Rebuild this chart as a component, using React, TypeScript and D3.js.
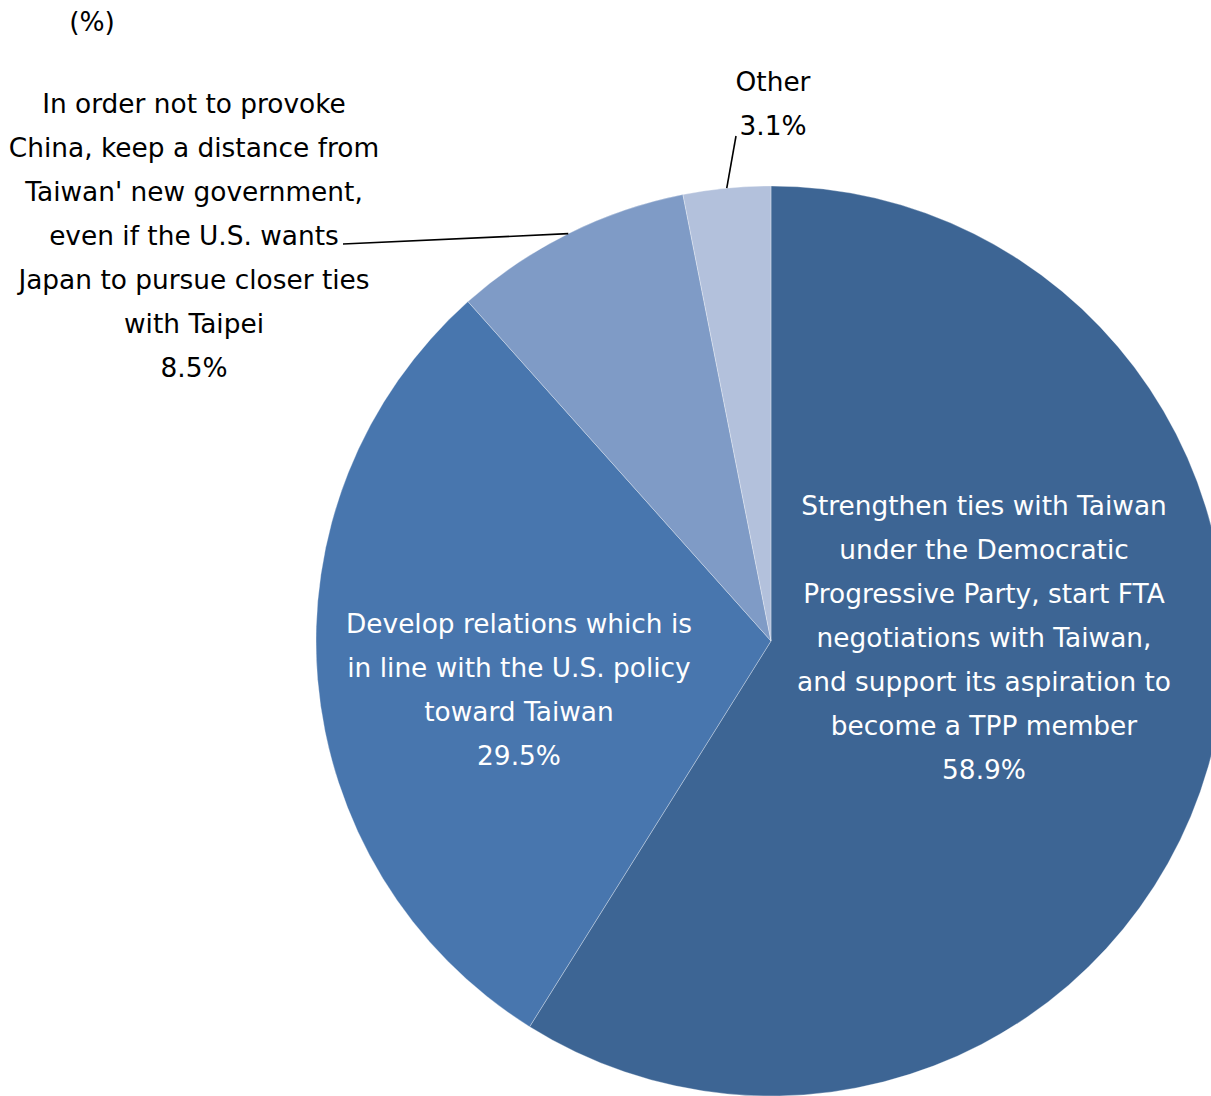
import React from "react";
import * as d3 from "d3";

const categories = [
  "Strengthen ties with Taiwan under the Democratic Progressive Party, start FTA negotiations with Taiwan, and support its aspiration to become a TPP member",
  "Develop relations which is in line with the U.S. policy toward Taiwan",
  "In order not to provoke China, keep a distance from Taiwan' new government, even if the U.S. wants Japan to pursue closer ties with Taipei",
  "Other",
];
const values = [58.9, 29.5, 8.5, 3.1];
const colors = ["#3d6594", "#4876ae", "#7f9bc6", "#b3c1dc"];
const labelLines = [
  ["Strengthen ties with Taiwan", "under the Democratic", "Progressive Party, start FTA", "negotiations with Taiwan,", "and support its aspiration to", "become a TPP member", "58.9%"],
  ["Develop relations which is", "in line with the U.S. policy", "toward Taiwan", "29.5%"],
  ["In order not to provoke", "China, keep a distance from", "Taiwan' new government,", "even if the U.S. wants", "Japan to pursue closer ties", "with Taipei", "8.5%"],
  ["Other", "3.1%"],
];
const labelPos = [
  { x: 984, y: 506, color: "#ffffff" },
  { x: 519, y: 624, color: "#ffffff" },
  { x: 194, y: 104, color: "#000000" },
  { x: 773, y: 82, color: "#000000" },
];

export default function App() {
  const W = 1211, H = 1096;
  const cx = 771, cy = 641, r = 455;
  const pie = d3.pie<number>().sort(null).value((d) => d)(values);
  const arc = d3.arc<d3.PieArcDatum<number>>().innerRadius(0).outerRadius(r);
  const font = "'DejaVu Sans', Verdana, sans-serif";
  const fs = 26.4;
  const lh = 44;
  const mid = (p: d3.PieArcDatum<number>) => (p.startAngle + p.endAngle) / 2;
  const onArc = (a: number): [number, number] => [cx + r * Math.sin(a), cy - r * Math.cos(a)];
  const oA = onArc(mid(pie[3]));
  const taiA = onArc(mid(pie[2]));
  return (
    <svg width={W} height={H} style={{ position: "absolute", left: 0, top: 0, background: "#fff" }}>
      <g transform={`translate(${cx},${cy})`}>
        {pie.map((p, i) => (
          <path key={i} d={arc(p) || ""} fill={colors[i]} stroke="#ffffff" strokeOpacity={0.3} strokeWidth={1}>
            <title>{categories[i]}</title>
          </path>
        ))}
      </g>
      <line x1={oA[0]} y1={oA[1]} x2={736} y2={136} stroke="#000" strokeWidth={1.6} />
      <line x1={taiA[0]} y1={taiA[1]} x2={343} y2={244} stroke="#000" strokeWidth={1.6} />
      <text x={92} y={22} dy="0.35em" textAnchor="middle" fontFamily={font} fontSize={fs} fill="#000">(%)</text>
      {labelLines.map((lines, i) => (
        <text key={i} fontFamily={font} fontSize={fs} fill={labelPos[i].color} textAnchor="middle">
          {lines.map((l, j) => (
            <tspan key={j} x={labelPos[i].x} y={labelPos[i].y + j * lh} dy="0.35em">{l}</tspan>
          ))}
        </text>
      ))}
    </svg>
  );
}
